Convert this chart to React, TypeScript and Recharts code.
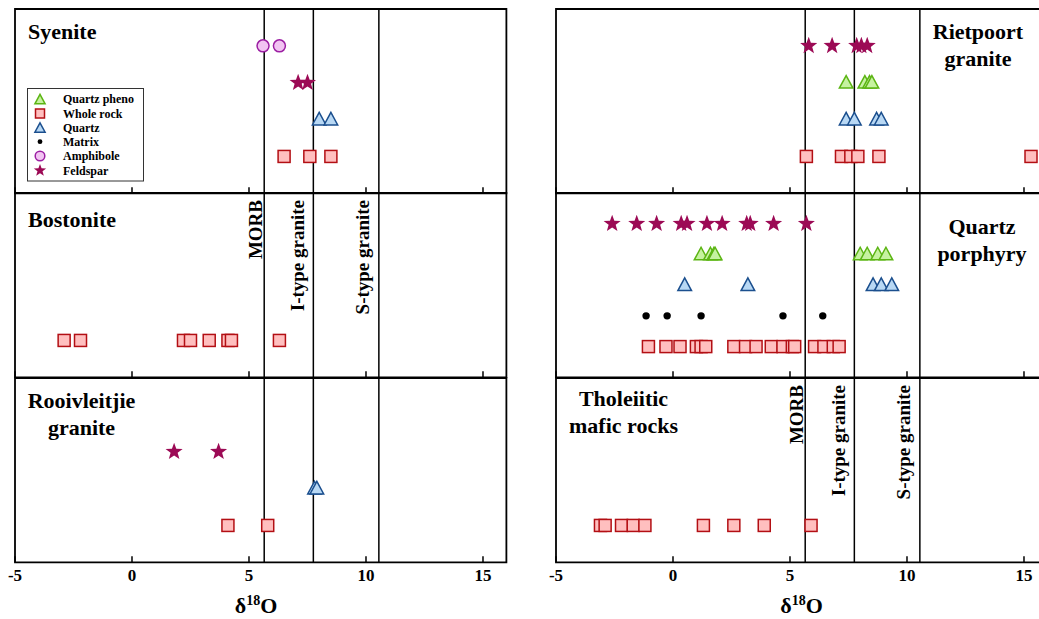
import React from 'react';
import { ScatterChart, Scatter, XAxis, YAxis, ReferenceLine, ReferenceArea } from 'recharts';

const SERIF = '"Liberation Serif", "Times New Roman", "DejaVu Serif", serif';

const X_DOMAIN: [number, number] = [-5, 16];
const X_TICKS = [-5, 0, 5, 10, 15];
const REF_VALUES = [5.65, 7.75, 10.55];
const REF_LABELS = ['MORB', 'I-type granite', 'S-type granite'];

// Syenite
const syeniteAmphibole = [5.6, 6.3];
const syeniteFeldspar = [7.1, 7.5];
const syeniteQuartz = [8.0, 8.5];
const syeniteWholeRock = [6.5, 7.6, 8.5];

// Bostonite
const bostoniteWholeRock = [-2.9, -2.2, 2.2, 2.5, 3.3, 4.1, 4.25, 6.3];

// Rooivleitjie granite
const rooiFeldspar = [1.8, 3.7];
const rooiQuartz = [7.8, 7.9];
const rooiWholeRock = [4.1, 5.8];

// Rietpoort granite
const rietFeldspar = [5.8, 6.8, 7.85, 8.05, 8.3];
const rietQuartzPheno = [7.4, 8.2, 8.4, 8.5];
const rietQuartz = [7.4, 7.75, 8.7, 8.9];
const rietWholeRock = [5.7, 7.2, 7.6, 7.9, 8.8, 15.3];

// Quartz porphyry
const qpFeldspar = [-2.6, -1.55, -0.7, 0.35, 0.6, 1.45, 2.1, 3.15, 3.3, 4.3, 5.7];
const qpQuartzPheno = [1.2, 1.6, 1.75, 1.8, 8.0, 8.3, 8.75, 9.1];
const qpQuartz = [0.5, 3.2, 8.55, 8.9, 9.35];
const qpMatrix = [-1.15, -0.25, 1.2, 4.7, 6.4];
const qpWholeRock = [-1.05, -0.3, 0.3, 1.0, 1.2, 1.4, 2.6, 3.1, 3.55, 4.2, 4.7, 5.1, 5.2, 6.05, 6.45, 6.85, 7.1];

// Tholeiitic mafic rocks
const tholWholeRock = [-3.1, -2.9, -2.2, -1.7, -1.2, 1.3, 2.6, 3.9, 5.9];

const LEGEND_NAMES = ['Quartz pheno', 'Whole rock', 'Quartz', 'Matrix', 'Amphibole', 'Feldspar'];

const C = {
  qpFill: '#c6f2a0', qpStroke: '#5cb514',
  wrFill: '#ffbfbf', wrStroke: '#b30f14',
  qFill: '#b8d8f4', qStroke: '#1b4f8e',
  amFill: '#f2c4f2', amStroke: '#9c1fa3',
  star: '#9c0a55',
};

const mk = (xs: number[], y: number) => xs.map((x) => ({ x, y }));

function starPath(cx: number, cy: number, R: number, r: number) {
  let d = '';
  for (let i = 0; i < 10; i++) {
    const rad = i % 2 === 0 ? R : r;
    const a = -Math.PI / 2 + (i * Math.PI) / 5;
    d += (i === 0 ? 'M' : 'L') + (cx + rad * Math.cos(a)).toFixed(2) + ',' + (cy + rad * Math.sin(a)).toFixed(2);
  }
  return d + 'Z';
}

const drawTriangle = (cx: number, cy: number, s: number, fill: string, stroke: string) => (
  <path
    d={`M${cx},${cy - 7.2 * s}L${cx + 6.8 * s},${cy + 5.4 * s}L${cx - 6.8 * s},${cy + 5.4 * s}Z`}
    fill={fill}
    stroke={stroke}
    strokeWidth={1.5}
    strokeLinejoin="miter"
  />
);
const drawSquare = (cx: number, cy: number, s: number) => (
  <rect x={cx - 6 * s} y={cy - 6 * s} width={12 * s} height={12 * s} fill={C.wrFill} stroke={C.wrStroke} strokeWidth={1.5} />
);
const drawCircle = (cx: number, cy: number, s: number) => (
  <circle cx={cx} cy={cy} r={6 * s} fill={C.amFill} stroke={C.amStroke} strokeWidth={1.5} />
);
const drawDot = (cx: number, cy: number, s: number) => <circle cx={cx} cy={cy} r={3.7 * s} fill="#000" />;
const drawStar = (cx: number, cy: number, s: number) => <path d={starPath(cx, cy, 9 * s, 3.7 * s)} fill={C.star} />;

const QPhenoShape = (p: any) => drawTriangle(p.cx, p.cy, 1, C.qpFill, C.qpStroke);
const QuartzShape = (p: any) => drawTriangle(p.cx, p.cy, 1, C.qFill, C.qStroke);
const WholeRockShape = (p: any) => drawSquare(p.cx, p.cy, 1);
const AmphShape = (p: any) => drawCircle(p.cx, p.cy, 1);
const MatrixShape = (p: any) => drawDot(p.cx, p.cy, 1);
const StarShape = (p: any) => drawStar(p.cx, p.cy, 1);

const LABEL_DX: Record<string, number> = { MORB: -2.5, 'I-type granite': -9.5, 'S-type granite': -10 };
const RefLabelShape = (p: any) => {
  const t = p.payload.label as string;
  const x = p.cx + LABEL_DX[t];
  const y = p.cy + 7;
  return (
    <text x={x} y={y} transform={`rotate(-90 ${x} ${y})`} textAnchor="end" fontFamily={SERIF} fontWeight="bold" fontSize={19} fill="#000">
      {t}
    </text>
  );
};

const Tick = (props: any) => {
  const { x, y, payload, bottom } = props;
  return (
    <g>
      <line x1={x} x2={x} y1={y} y2={y - 6} stroke="#000" strokeWidth={1.5} />
      {bottom && (
        <text x={x} y={y + 19} textAnchor="middle" fontFamily={SERIF} fontWeight="bold" fontSize={17} fill="#000">
          {payload.value}
        </text>
      )}
    </g>
  );
};

const PW = 491.4;
const PH = 184.3;
const M = 14;
const COL_LEFT = [15, 556];
const ROW_TOP = [9, 193.3, 377.6];

function Panel({ col, row, yMax, refLabels, children }: any) {
  const bottom = row === 2;
  const axisH = bottom ? 40 : 1;
  const labelData = refLabels ? REF_VALUES.map((x, i) => ({ x, y: yMax, label: REF_LABELS[i] })) : [];
  return (
    <div style={{ position: 'absolute', left: COL_LEFT[col] - M, top: ROW_TOP[row] - M }}>
      <ScatterChart width={PW + 2 * M} height={PH + 2 * M + axisH} margin={{ top: M, right: M, bottom: M, left: M }}>
        <XAxis
          type="number"
          dataKey="x"
          domain={X_DOMAIN}
          ticks={X_TICKS}
          interval={0}
          allowDataOverflow
          axisLine={false}
          tickLine={false}
          tickSize={0}
          tickMargin={0}
          height={axisH}
          tick={<Tick bottom={bottom} />}
        />
        <YAxis type="number" dataKey="y" domain={[0, yMax]} hide allowDataOverflow />
        <ReferenceArea x1={-5} x2={16} y1={0} y2={yMax} fill="none" stroke="#000" strokeWidth={1.8} ifOverflow="visible" />
        {REF_VALUES.map((v) => (
          <ReferenceLine key={v} x={v} stroke="#000" strokeWidth={1.5} />
        ))}
        {refLabels && <Scatter data={labelData} shape={RefLabelShape} isAnimationActive={false} />}
        {children}
      </ScatterChart>
    </div>
  );
}

const Legend = () => {
  const ys = [99.3, 113.5, 127.7, 141.7, 156, 170.5];
  const icons = [
    (y: number) => drawTriangle(40, y + 0.5, 0.75, C.qpFill, C.qpStroke),
    (y: number) => drawSquare(40, y, 0.75),
    (y: number) => drawTriangle(40, y + 0.5, 0.75, C.qFill, C.qStroke),
    (y: number) => drawDot(40, y, 0.65),
    (y: number) => drawCircle(40, y, 0.8),
    (y: number) => drawStar(40, y, 0.72),
  ];
  return (
    <g>
      <rect x={27.5} y={88.5} width={116} height={92.5} fill="#fff" stroke="#333" strokeWidth={1} />
      {LEGEND_NAMES.map((n, i) => (
        <g key={n}>
          {icons[i](ys[i])}
          <text x={63} y={ys[i] + 4} fontFamily={SERIF} fontWeight="bold" fontSize={12} fill="#000">
            {n}
          </text>
        </g>
      ))}
    </g>
  );
};

const Title = ({ x, y, lines, anchor }: any) => (
  <text x={x} y={y} textAnchor={anchor} fontFamily={SERIF} fontWeight="bold" fontSize={22} fill="#000">
    {lines.map((l: string, i: number) => (
      <tspan key={i} x={x} dy={i === 0 ? 0 : 26.5}>
        {l}
      </tspan>
    ))}
  </text>
);

const AxisTitle = ({ x }: any) => (
  <text x={x} y={613} textAnchor="middle" fontFamily={SERIF} fontWeight="bold" fontSize={22} fill="#000">
    δ<tspan fontSize={14} dy={-8}>18</tspan>
    <tspan dy={8}>O</tspan>
  </text>
);

export default function App() {
  return (
    <div style={{ position: 'absolute', left: 0, top: 0, width: 1039, height: 619, overflow: 'hidden', background: '#fff' }}>
      {/* Left column */}
      <Panel col={0} row={0} yMax={5}>
        <Scatter data={mk(syeniteWholeRock, 1)} shape={WholeRockShape} isAnimationActive={false} />
        <Scatter data={mk(syeniteQuartz, 2)} shape={QuartzShape} isAnimationActive={false} />
        <Scatter data={mk(syeniteFeldspar, 3)} shape={StarShape} isAnimationActive={false} />
        <Scatter data={mk(syeniteAmphibole, 4)} shape={AmphShape} isAnimationActive={false} />
      </Panel>
      <Panel col={0} row={1} yMax={5} refLabels>
        <Scatter data={mk(bostoniteWholeRock, 1)} shape={WholeRockShape} isAnimationActive={false} />
      </Panel>
      <Panel col={0} row={2} yMax={5}>
        <Scatter data={mk(rooiWholeRock, 1)} shape={WholeRockShape} isAnimationActive={false} />
        <Scatter data={mk(rooiQuartz, 2)} shape={QuartzShape} isAnimationActive={false} />
        <Scatter data={mk(rooiFeldspar, 3)} shape={StarShape} isAnimationActive={false} />
      </Panel>

      {/* Right column */}
      <Panel col={1} row={0} yMax={5}>
        <Scatter data={mk(rietWholeRock, 1)} shape={WholeRockShape} isAnimationActive={false} />
        <Scatter data={mk(rietQuartz, 2)} shape={QuartzShape} isAnimationActive={false} />
        <Scatter data={mk(rietQuartzPheno, 3)} shape={QPhenoShape} isAnimationActive={false} />
        <Scatter data={mk(rietFeldspar, 4)} shape={StarShape} isAnimationActive={false} />
      </Panel>
      <Panel col={1} row={1} yMax={6}>
        <Scatter data={mk(qpWholeRock, 1)} shape={WholeRockShape} isAnimationActive={false} />
        <Scatter data={mk(qpMatrix, 2)} shape={MatrixShape} isAnimationActive={false} />
        <Scatter data={mk(qpQuartz, 3)} shape={QuartzShape} isAnimationActive={false} />
        <Scatter data={mk(qpQuartzPheno, 4)} shape={QPhenoShape} isAnimationActive={false} />
        <Scatter data={mk(qpFeldspar, 5)} shape={StarShape} isAnimationActive={false} />
      </Panel>
      <Panel col={1} row={2} yMax={5} refLabels>
        <Scatter data={mk(tholWholeRock, 1)} shape={WholeRockShape} isAnimationActive={false} />
      </Panel>

      <svg width={1039} height={619} style={{ position: 'absolute', left: 0, top: 0, pointerEvents: 'none' }}>
        <Title x={28} y={38.5} lines={['Syenite']} anchor="start" />
        <Title x={28} y={227} lines={['Bostonite']} anchor="start" />
        <Title x={81.5} y={408} lines={['Rooivleitjie', 'granite']} anchor="middle" />
        <Title x={978} y={39} lines={['Rietpoort', 'granite']} anchor="middle" />
        <Title x={982} y={234} lines={['Quartz', 'porphyry']} anchor="middle" />
        <Title x={623.5} y={406} lines={['Tholeiitic', 'mafic rocks']} anchor="middle" />
        <Legend />
        <AxisTitle x={256} />
        <AxisTitle x={801.5} />
      </svg>
    </div>
  );
}
